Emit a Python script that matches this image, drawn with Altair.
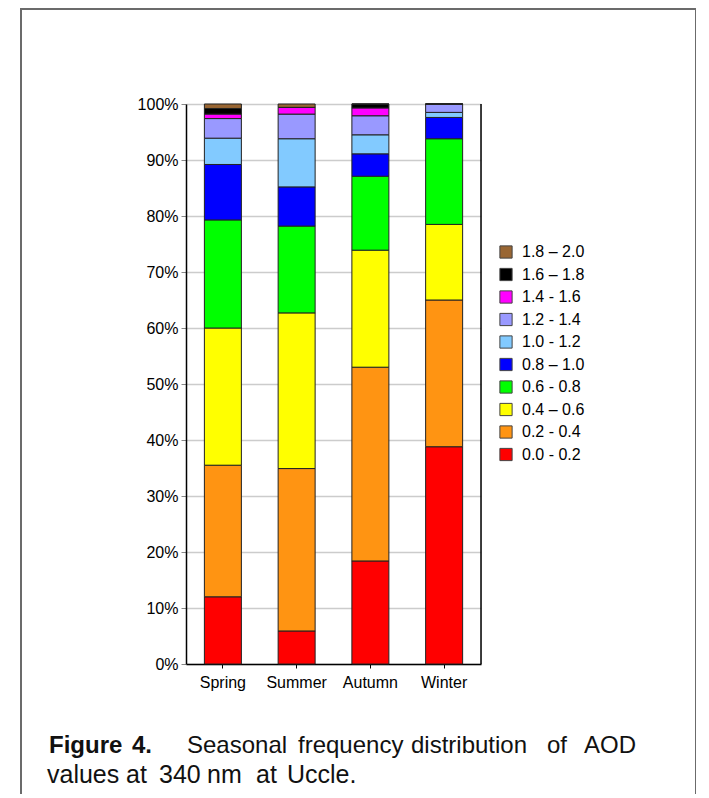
import altair as alt
import pandas as pd

seasons = ["Spring", "Summer", "Autumn", "Winter"]
# bins from bottom (0.0-0.2) to top (1.8-2.0)
bins = ["0.0 - 0.2", "0.2 - 0.4", "0.4 \u2013 0.6", "0.6 - 0.8", "0.8 \u2013 1.0",
        "1.0 - 1.2", "1.2 - 1.4", "1.4 - 1.6", "1.6 \u2013 1.8", "1.8 \u2013 2.0"]
colors = ["#ff0000", "#ff9412", "#ffff00", "#00ff00", "#0000ff",
          "#82caff", "#9999ff", "#ff00ff", "#000000", "#996633"]
spring = [12.0, 23.5, 24.5, 19.3, 9.9, 4.7, 3.5, 0.8, 1.0, 0.8]
summer = [5.9, 29.0, 27.8, 15.5, 7.0, 8.6, 4.4, 1.2, 0.0, 0.6]
autumn = [18.4, 34.6, 20.9, 13.2, 4.0, 3.4, 3.4, 1.4, 0.7, 0.0]
winter = [38.8, 26.2, 13.5, 15.3, 3.8, 0.9, 1.5, 0.0, 0.0, 0.0]
y_ticks = [0, 10, 20, 30, 40, 50, 60, 70, 80, 90, 100]

rows = []
for s, vals in zip(seasons, [spring, summer, autumn, winter]):
    for i, (b, v) in enumerate(zip(bins, vals)):
        rows.append({"season": s, "bin": b, "idx": i, "pct": v})
df = pd.DataFrame(rows)

W, H = 295, 560
FONT = "Liberation Sans"

bars = alt.Chart(df).mark_bar(stroke="#222222", strokeWidth=1, size=37).encode(
    x=alt.X("season:N", sort=seasons, title=None,
            scale=alt.Scale(paddingInner=0.5, paddingOuter=0.25),
            axis=alt.Axis(labelAngle=0, labelFontSize=16, labelFont=FONT, labelColor="#000",
                          domainColor="#000", domainWidth=1.5, tickColor="#000",
                          tickSize=4, labelPadding=6)),
    y=alt.Y("pct:Q", stack="zero", title=None,
            scale=alt.Scale(domain=[0, 100], nice=False),
            axis=alt.Axis(values=y_ticks, labelExpr="datum.value + '%'", labelFontSize=16,
                          labelFont=FONT, labelColor="#000", domainColor="#000",
                          domainWidth=1.5, tickColor="#888", tickSize=5, labelPadding=3,
                          grid=True, gridColor="#cccccc", gridWidth=1.5)),
    color=alt.Color("bin:N", scale=alt.Scale(domain=bins[::-1], range=colors[::-1]),
                    title=None,
                    legend=alt.Legend(orient="none", legendX=312, legendY=140,
                                      symbolType="square", symbolSize=150,
                                      symbolStrokeColor="#444", symbolStrokeWidth=1,
                                      symbolOpacity=1, labelFontSize=16, labelFont=FONT,
                                      labelColor="#000", rowPadding=4.5, labelOffset=8)),
    order=alt.Order("idx:Q", sort="ascending"),
)

one = alt.Data(values=[{"k": 1}])

right_border = alt.Chart(one).mark_rule(color="#000", strokeWidth=1.5).encode(
    x=alt.value(W), y=alt.value(0), y2=alt.value(H))

frame = alt.Chart(one).mark_rect(fill=None, stroke="#6b6b6b", strokeWidth=2).encode(
    x=alt.value(21 - 186), x2=alt.value(696 - 186),
    y=alt.value(9 - 104), y2=alt.value(820 - 104))

line1 = [("Figure", 49, "bold"), ("4.", 132, "bold"), ("Seasonal", 187, "normal"),
         ("frequency", 298, "normal"), ("distribution", 411, "normal"),
         ("of", 547, "normal"), ("AOD", 584, "normal")]
line2 = [("values", 47, "normal"), ("at", 126, "normal"), ("340", 159, "normal"),
         ("nm", 207, "normal"), ("at", 256, "normal"), ("Uccle.", 287, "normal")]
cap_layers = []
for words, yy, fs in [(line1, 753, 24), (line2, 783, 25)]:
    for w, xx, fw in words:
        cap_layers.append(
            alt.Chart(one).mark_text(text=w, align="left", baseline="alphabetic",
                                     fontSize=fs, font=FONT, fontWeight=fw,
                                     color="#111").encode(
                x=alt.value(xx - 186), y=alt.value(yy - 104)))

chart = alt.layer(frame, bars, right_border, *cap_layers).properties(
    width=W, height=H,
    padding={"left": 178, "top": 96, "right": 215, "bottom": 130},
    autosize=alt.AutoSizeParams(type="none"),
).configure_view(stroke=None).configure(background="white")

chart.save("out.html", embed_options={"renderer": "svg", "actions": False})
